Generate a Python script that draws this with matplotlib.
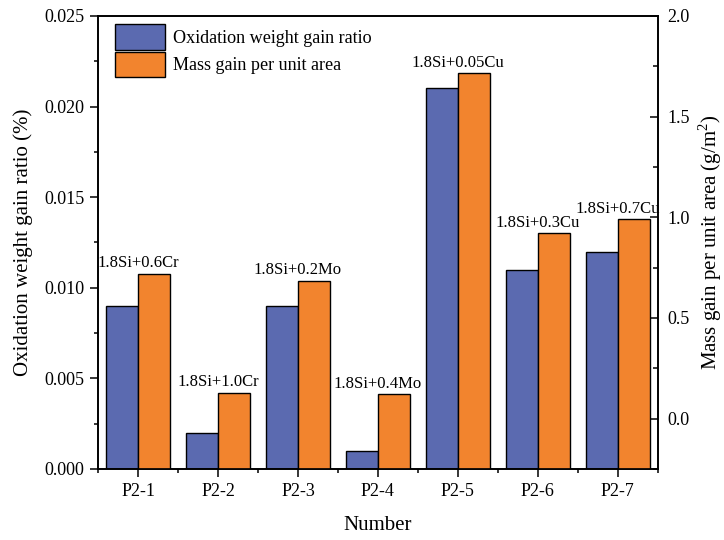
import numpy as np
import matplotlib
matplotlib.use("Agg")
import matplotlib.pyplot as plt
from matplotlib.ticker import MultipleLocator, FixedLocator, FormatStrFormatter

plt.rcParams["font.family"] = ["Liberation Serif", "DejaVu Serif"]
plt.rcParams["mathtext.fontset"] = "custom"
plt.rcParams["mathtext.rm"] = "Liberation Serif"

# samples and measurements
samples = ["P2-1", "P2-2", "P2-3", "P2-4", "P2-5", "P2-6", "P2-7"]
compositions = ["1.8Si+0.6Cr", "1.8Si+1.0Cr", "1.8Si+0.2Mo", "1.8Si+0.4Mo",
                "1.8Si+0.05Cu", "1.8Si+0.3Cu", "1.8Si+0.7Cu"]
weight_gain_ratio = [0.009, 0.002, 0.009, 0.001, 0.021, 0.011, 0.012]   # %
mass_gain_area = [0.72, 0.128, 0.684, 0.121, 1.715, 0.92, 0.99]        # g/m^2

blue = "#5b6ab0"
orange = "#f2842e"

fig = plt.figure(figsize=(7.24, 5.4), dpi=100)
ax = fig.add_axes([0.1358, 0.1315, 0.7724, 0.8389])
ax2 = ax.twinx()

ax.set_xlim(0.5, 7.5)
ax.set_ylim(0, 0.025)
ax2.set_ylim(-0.25, 2.0)
base = ax2.get_ylim()[0]  # right-axis bars rise from the bottom of the frame

x = np.arange(1, len(samples) + 1)
w = 0.4

b1 = ax.bar(x, weight_gain_ratio, width=-w, align="edge", color=blue,
            edgecolor="black", linewidth=1.0, label="Oxidation weight gain ratio")
b2 = ax2.bar(x, np.array(mass_gain_area) - base, bottom=base, width=w,
             align="edge", color=orange, edgecolor="black", linewidth=1.0,
             label="Mass gain per unit area")

for xi, val, txt in zip(x, mass_gain_area, compositions):
    ax2.annotate(txt, (xi, val), xytext=(0, 2), textcoords="offset points",
                 ha="center", va="bottom", fontsize=12)

ax.set_xticks(x)
ax.set_xticklabels(samples)
ax.xaxis.set_minor_locator(FixedLocator(np.arange(0.5, 8, 1.0)))
ax.yaxis.set_major_locator(MultipleLocator(0.005))
ax.yaxis.set_minor_locator(MultipleLocator(0.0025))
ax.yaxis.set_major_formatter(FormatStrFormatter("%.3f"))
ax2.yaxis.set_major_locator(MultipleLocator(0.5))
ax2.yaxis.set_minor_locator(MultipleLocator(0.25))
ax2.yaxis.set_major_formatter(FormatStrFormatter("%.1f"))

ax.tick_params(axis="both", which="major", direction="out", length=5.8,
               width=1.1, labelsize=13, pad=4)
ax.tick_params(axis="both", which="minor", direction="out", length=2.9, width=1.1)
ax2.tick_params(axis="y", which="major", direction="in", length=5.6,
                width=1.1, labelsize=13, pad=7)
ax2.tick_params(axis="y", which="minor", direction="in", length=3.5, width=1.1)

for a in (ax, ax2):
    for s in a.spines.values():
        s.set_linewidth(1.2)

ax.set_xlabel("Number", fontsize=15, labelpad=12)
ax.set_ylabel("Oxidation weight gain ratio (%)", fontsize=15, labelpad=8)
ax2.set_ylabel("Mass gain per unit area (g/m$^2$)", fontsize=15, labelpad=5)

ax.legend([b1, b2], [b1.get_label(), b2.get_label()], loc="upper left",
          bbox_to_anchor=(0.015, 1.0), borderaxespad=0, borderpad=0.45,
          frameon=False, fontsize=13.1, handlelength=2.75, handleheight=1.8,
          handletextpad=0.45, labelspacing=0.1)

fig.savefig("out.png", dpi=100)
